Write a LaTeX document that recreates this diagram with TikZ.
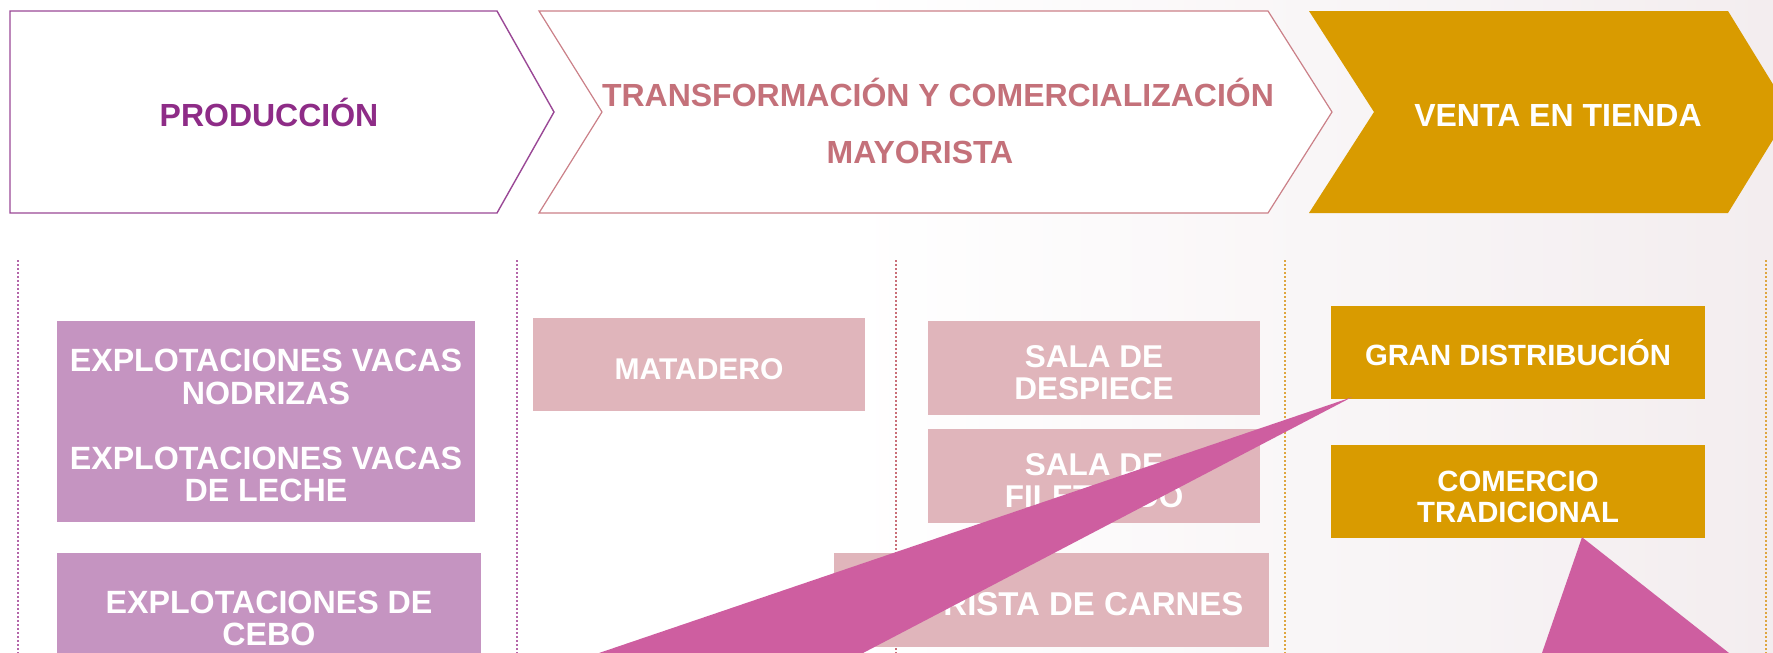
\documentclass[tikz,border=0pt]{standalone}
\usepackage{fontspec}
\setmainfont{Liberation Sans}

\definecolor{prodPurple}{HTML}{8E2C87}
\definecolor{prodLine}{HTML}{9A4896}
\definecolor{transRose}{HTML}{C4717A}
\definecolor{transLine}{HTML}{CB8088}
\definecolor{saleGold}{HTML}{D99B00}
\definecolor{boxPurple}{HTML}{C594C1}
\definecolor{boxPink}{HTML}{E0B5BB}
\definecolor{wedgeMagenta}{HTML}{CE5EA0}
\definecolor{sepPurple}{HTML}{B466A9}
\definecolor{sepRose}{HTML}{C96F78}
\definecolor{sepGold}{HTML}{DEA640}
\definecolor{bgTint}{HTML}{F3EDEF}

\def \headTop{11}
\def \headBottom{213}
\def \headMid{112}
\def \sepTop{260}
\def \picBottom{653}
\def \capstrut{\rule{0pt}{31pt}}

\tikzset{
  box/.style={inner sep=0pt, text=white, align=center},
  prodbox/.style={box, fill=boxPurple, font=\fontsize{32.2}{32.5}\selectfont\bfseries},
  transbox/.style={box, fill=boxPink, font=\fontsize{31.5}{32}\selectfont\bfseries},
  salebox/.style={box, fill=saleGold, font=\fontsize{29.3}{31}\selectfont\bfseries},
  headtext/.style={anchor=base, font=\fontsize{32}{32}\selectfont\bfseries},
  sepline/.style={line width=1.2pt, dash pattern=on 2pt off 2pt},
  wedge/.style={fill=wedgeMagenta}
}

\begin{document}
\begin{tikzpicture}[x=1pt, y=-1pt]
\useasboundingbox (0,0) rectangle (1773,\picBottom);
\clip (0,0) rectangle (1773,\picBottom);
% ---- Background
\shade[left color=white, right color=bgTint] (850,0) rectangle (1773,\picBottom);

% ---- Column separators
\draw[sepline, sepPurple] (18,\sepTop) -- (18,\picBottom);
\draw[sepline, sepPurple] (517,\sepTop) -- (517,\picBottom);
\draw[sepline, sepRose] (896,\sepTop) -- (896,\picBottom);
\draw[sepline, sepGold] (1285,\sepTop) -- (1285,\picBottom);
\draw[sepline, sepGold] (1766,\sepTop) -- (1766,\picBottom);

% ---- Stage headers
% ---- Produccion
\filldraw[draw=prodLine, fill=white, line width=1.4pt] (10,\headTop) -- (497,\headTop) -- (554,\headMid) -- (497,\headBottom) -- (10,\headBottom) -- cycle;
\node[headtext, text=prodPurple] (headProd) at (269,126) {PRODUCCIÓN};
% ---- Transformacion
\filldraw[draw=transLine, fill=white, line width=1.2pt] (539,\headTop) -- (1268,\headTop) -- (1332,\headMid) -- (1268,\headBottom) -- (539,\headBottom) -- (602,\headMid) -- cycle;
\node[headtext, text=transRose] (headTransA) at (938,106) {TRANSFORMACIÓN Y COMERCIALIZACIÓN};
\node[headtext, text=transRose] (headTransB) at (920,163) {MAYORISTA};
% ---- Venta
\fill[saleGold] (1309,\headTop) -- (1728,\headTop) -- (1790,\headMid) -- (1728,\headBottom) -- (1309,\headBottom) -- (1374,\headMid) -- cycle;
\node[headtext, text=white] (headSale) at (1558,126) {VENTA EN TIENDA};

% ---- Produccion boxes
\node[prodbox, minimum width=418pt, minimum height=201pt] (prodA) at (266,421.5) {\capstrut EXPLOTACIONES VACAS\\NODRIZAS\\[32.5pt]EXPLOTACIONES VACAS\\DE LECHE};
\node[prodbox, minimum width=424pt, minimum height=123pt] (prodB) at (269,614) {\capstrut EXPLOTACIONES DE\\CEBO};

% ---- Transformacion boxes
\node[transbox, minimum width=332pt, minimum height=93pt, font=\fontsize{30}{30}\selectfont\bfseries] (transA) at (699,364.5) {\capstrut MATADERO};
\node[transbox, minimum width=332pt, minimum height=94pt] (transB) at (1094,368) {\capstrut SALA DE\\DESPIECE};
\node[transbox, minimum width=332pt, minimum height=94pt] (transC) at (1094,476) {\capstrut SALA DE\\FILETEADO};
\node[transbox, minimum width=435pt, minimum height=94pt, font=\fontsize{33}{34}\selectfont\bfseries] (transD) at (1051.5,600) {\capstrut MAYORISTA DE CARNES\hspace*{12pt}};

% ---- Venta boxes
\node[salebox, minimum width=374pt, minimum height=93pt] (saleA) at (1518,352.5) {GRAN DISTRIBUCIÓN};
\node[salebox, minimum width=374pt, minimum height=93pt] (saleB) at (1518,491.5) {\capstrut COMERCIO\\TRADICIONAL};

% ---- Callout wedges
\coordinate (wedgeAl) at (599,\picBottom);
\coordinate (wedgeAr) at (863,\picBottom);
\coordinate (wedgeBl) at (1542,\picBottom);
\coordinate (wedgeBr) at (1729,\picBottom);
\fill[wedge] ([xshift=21pt, yshift=2pt]saleA.south west) -- (wedgeAl) -- (wedgeAr) -- cycle;
\fill[wedge] ([xshift=64pt, yshift=1pt]saleB.south) -- (wedgeBl) -- (wedgeBr) -- cycle;
\end{tikzpicture}
\end{document}
